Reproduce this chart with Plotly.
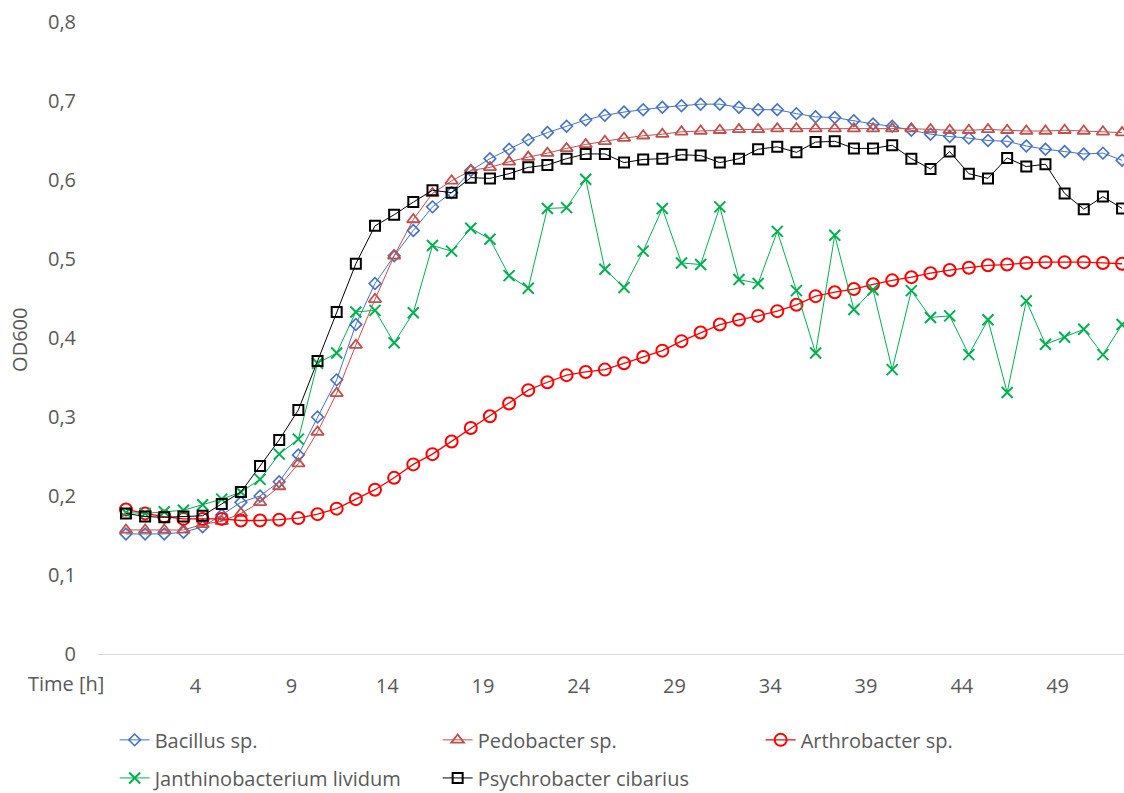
import plotly.graph_objects as go

# Sampling times (h) and OD600 readings per strain
hours = list(range(53))

bacillus = [0.152, 0.152, 0.152, 0.154, 0.161, 0.176, 0.192, 0.200, 0.218, 0.252,
            0.300, 0.347, 0.417, 0.469, 0.504, 0.536, 0.566, 0.584, 0.612, 0.627,
            0.639, 0.651, 0.660, 0.668, 0.676, 0.682, 0.686, 0.689, 0.692, 0.694,
            0.696, 0.696, 0.692, 0.689, 0.689, 0.684, 0.680, 0.679, 0.675, 0.671,
            0.668, 0.663, 0.658, 0.655, 0.653, 0.650, 0.649, 0.643, 0.639, 0.636,
            0.633, 0.634, 0.625]

pedobacter = [0.157, 0.157, 0.157, 0.157, 0.164, 0.168, 0.178, 0.192, 0.212, 0.241,
              0.281, 0.330, 0.391, 0.449, 0.504, 0.550, 0.583, 0.599, 0.612, 0.616,
              0.623, 0.629, 0.634, 0.640, 0.645, 0.649, 0.653, 0.656, 0.658, 0.661,
              0.662, 0.663, 0.664, 0.664, 0.665, 0.665, 0.665, 0.665, 0.665, 0.665,
              0.665, 0.665, 0.664, 0.663, 0.663, 0.664, 0.663, 0.662, 0.662, 0.663,
              0.662, 0.661, 0.660]

arthrobacter = [0.183, 0.178, 0.174, 0.171, 0.171, 0.171, 0.169, 0.169, 0.170, 0.172,
                0.177, 0.184, 0.196, 0.208, 0.223, 0.240, 0.253, 0.269, 0.286, 0.301,
                0.317, 0.334, 0.344, 0.353, 0.357, 0.360, 0.368, 0.376, 0.384, 0.396,
                0.407, 0.417, 0.423, 0.428, 0.434, 0.442, 0.453, 0.458, 0.462, 0.468,
                0.473, 0.477, 0.482, 0.486, 0.489, 0.492, 0.493, 0.495, 0.496, 0.496,
                0.496, 0.495, 0.494]

janthinobacterium = [0.179, 0.178, 0.180, 0.182, 0.189, 0.196, 0.205, 0.221, 0.253, 0.272,
                     0.368, 0.381, 0.433, 0.435, 0.394, 0.432, 0.517, 0.510, 0.539, 0.525,
                     0.479, 0.463, 0.564, 0.565, 0.601, 0.487, 0.464, 0.510, 0.564, 0.495,
                     0.493, 0.566, 0.474, 0.469, 0.535, 0.460, 0.381, 0.530, 0.436, 0.461,
                     0.360, 0.460, 0.426, 0.428, 0.379, 0.423, 0.331, 0.447, 0.392, 0.401,
                     0.411, 0.379, 0.417]

psychrobacter = [0.178, 0.174, 0.173, 0.174, 0.175, 0.190, 0.205, 0.238, 0.271, 0.309,
                 0.371, 0.433, 0.494, 0.542, 0.556, 0.572, 0.587, 0.584, 0.603, 0.602,
                 0.608, 0.616, 0.619, 0.627, 0.633, 0.633, 0.622, 0.626, 0.627, 0.632,
                 0.631, 0.622, 0.627, 0.639, 0.642, 0.635, 0.648, 0.649, 0.640, 0.640,
                 0.644, 0.627, 0.614, 0.636, 0.608, 0.602, 0.628, 0.617, 0.620, 0.583,
                 0.563, 0.579, 0.564]

x_tick_hours = [4, 9, 14, 19, 24, 29, 34, 39, 44, 49]
y_tick_values = [0, 0.1, 0.2, 0.3, 0.4, 0.5, 0.6, 0.7, 0.8]
y_tick_labels = ["0", "0,1", "0,2", "0,3", "0,4", "0,5", "0,6", "0,7", "0,8"]

FONT = "Open Sans"
FSIZE = 20
GREY = "#595959"

# name, values, colour, marker symbol, marker size, marker stroke, line width, legend row
series = [
    ("Bacillus sp.", bacillus, "#4472C4", "diamond-open", 9, 1.6, 1.0, "legend"),
    ("Pedobacter sp.", pedobacter, "#C0504D", "triangle-up-open", 11, 1.8, 1.0, "legend"),
    ("Arthrobacter sp.", arthrobacter, "#FF0000", "circle-open", 12, 2.0, 1.3, "legend"),
    ("Janthinobacterium lividum", janthinobacterium, "#00B050", "x-thin-open", 11, 2.0, 1.0, "legend2"),
    ("Psychrobacter cibarius", psychrobacter, "#000000", "square-open", 10, 2.0, 1.0, "legend2"),
]

fig = go.Figure()
for name, vals, color, symbol, msize, mstroke, lw, leg in series:
    fig.add_trace(go.Scatter(
        x=hours, y=vals, name=name, mode="lines+markers",
        line=dict(color=color, width=lw),
        marker=dict(symbol=symbol, size=msize, color=color,
                    line=dict(color=color, width=mstroke)),
        legend=leg,
    ))

legend_common = dict(
    orientation="h", xanchor="left", yanchor="middle",
    xref="container", yref="container",
    font=dict(family=FONT, size=FSIZE, color=GREY),
    entrywidth=278, entrywidthmode="pixels",
    bgcolor="rgba(0,0,0,0)",
)

fig.update_layout(
    width=1124, height=793,
    margin=dict(l=98, r=0, t=22, b=139, autoexpand=False),
    paper_bgcolor="white", plot_bgcolor="white",
    font=dict(family=FONT, size=FSIZE, color=GREY),
    showlegend=True,
    legend=dict(x=0.102, y=0.067, **legend_common),
    legend2=dict(x=0.102, y=0.019, **legend_common),
    xaxis=dict(
        range=[-1.46, 52.1],
        tickmode="array", tickvals=x_tick_hours,
        ticktext=[str(h) for h in x_tick_hours],
        showgrid=False, zeroline=False,
        showline=True, linecolor="#D9D9D9", linewidth=1,
        ticks="", ticklabelstandoff=14, ticklabelshift=-7,
        tickfont=dict(family=FONT, size=FSIZE, color=GREY),
        automargin=False,
    ),
    yaxis=dict(
        range=[0, 0.8],
        tickmode="array", tickvals=y_tick_values, ticktext=y_tick_labels,
        showgrid=False, zeroline=False, showline=False,
        ticks="", ticklabelstandoff=21,
        tickfont=dict(family=FONT, size=FSIZE, color=GREY),
        automargin=False,
    ),
    annotations=[
        dict(text="Time [h]", x=-1.05, y=0, xref="x", yref="paper",
             xanchor="right", yanchor="top", yshift=-14, showarrow=False,
             font=dict(family=FONT, size=FSIZE, color=GREY)),
        dict(text="OD600", x=-0.076, y=0.497, xref="paper", yref="paper",
             xanchor="center", yanchor="middle", textangle=-90, showarrow=False,
             font=dict(family=FONT, size=FSIZE, color=GREY)),
    ],
)

fig.write_html("out.html")
